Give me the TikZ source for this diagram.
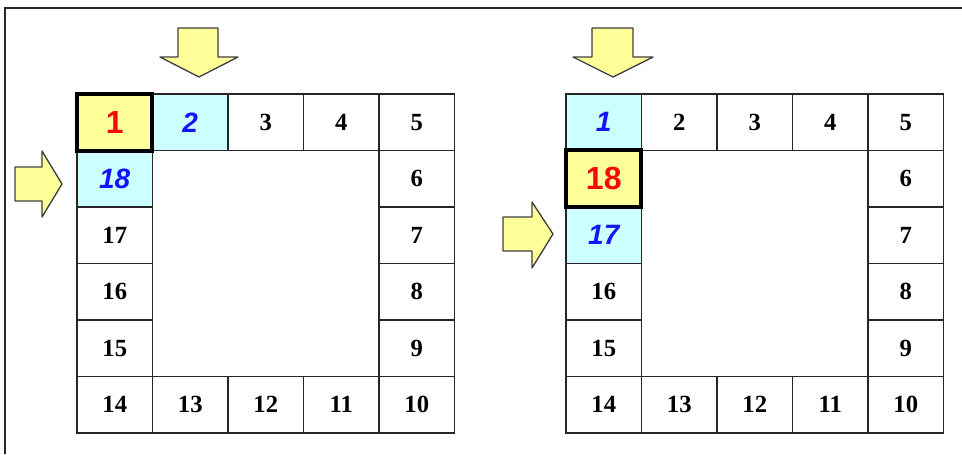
\documentclass[tikz,border=0pt]{standalone}
\usepackage{fontspec}
\setmainfont{Liberation Serif}
\setsansfont{Liberation Sans}
\usepackage{xcolor}
\usepackage{tikz}
\usetikzlibrary{positioning}

\definecolor{padyellow}{RGB}{255,255,153}
\definecolor{padcyan}{RGB}{204,255,255}
\definecolor{numblue}{RGB}{20,20,245}
\definecolor{numred}{RGB}{245,10,10}

\begin{document}
\begin{tikzpicture}[x=0.75pt, y=-0.75pt,
    cell/.style={draw=black!85, line width=1.4pt, outer sep=0pt, inner sep=0pt,
        minimum width=56.6pt, minimum height=42.4pt,
        font=\bfseries\fontsize{18.5}{20}\selectfont},
    nextcell/.style={cell, fill=padcyan, text=numblue,
        font=\sffamily\bfseries\itshape\fontsize{21}{23}\selectfont},
    curcell/.style={cell, fill=padyellow, text=numred,
        font=\sffamily\bfseries\fontsize{24}{26}\selectfont},
    curframe/.style={draw=black, line width=3pt},
    pointer/.style={fill=padyellow, draw=black!75, line width=1pt, line join=round}]
    \useasboundingbox (0,0) rectangle (962,454);

    % Frame
    \draw[line width=1.5pt, black!85] (5,454) -- (5,8) -- (962,8);

    % Both rings, numbered clockwise from the top-left corner
    \foreach \n/\c/\r/\ls/\rs in {1/0/0/curcell/nextcell, 2/1/0/nextcell/cell, 3/2/0/cell/cell,
        4/3/0/cell/cell, 5/4/0/cell/cell, 6/4/1/cell/cell, 7/4/2/cell/cell, 8/4/3/cell/cell,
        9/4/4/cell/cell, 10/4/5/cell/cell, 11/3/5/cell/cell, 12/2/5/cell/cell, 13/1/5/cell/cell,
        14/0/5/cell/cell, 15/0/4/cell/cell, 16/0/3/cell/cell, 17/0/2/cell/nextcell,
        18/0/1/nextcell/curcell}
    {
        \node[\ls] (L\n) at (114.75+75.5*\c, 122.25+56.5*\r) {\n};
        \node[\rs] (R\n) at (603.75+75.5*\c, 122.25+56.5*\r) {\n};
    }

    % Current cell
    \draw[curframe] (L1.north west) rectangle (L1.south east);
    \draw[curframe] (R18.north west) rectangle (R18.south east);

    % Pointers
    \draw[pointer] (178,28) -- (218,28) -- (218,57) -- (238,57) -- (199,77) -- (160,57) -- (178,57) -- cycle;
    \draw[pointer] (15,167) -- (42,167) -- (42,151) -- (62,184) -- (42,217) -- (42,201) -- (15,201) -- cycle;
    \draw[pointer] (592,28) -- (633,28) -- (633,57) -- (653,57) -- (613,77) -- (573,57) -- (592,57) -- cycle;
    \draw[pointer] (503,217) -- (532,217) -- (532,202) -- (553,234) -- (532,268) -- (532,251) -- (503,251) -- cycle;

\end{tikzpicture}
\end{document}
